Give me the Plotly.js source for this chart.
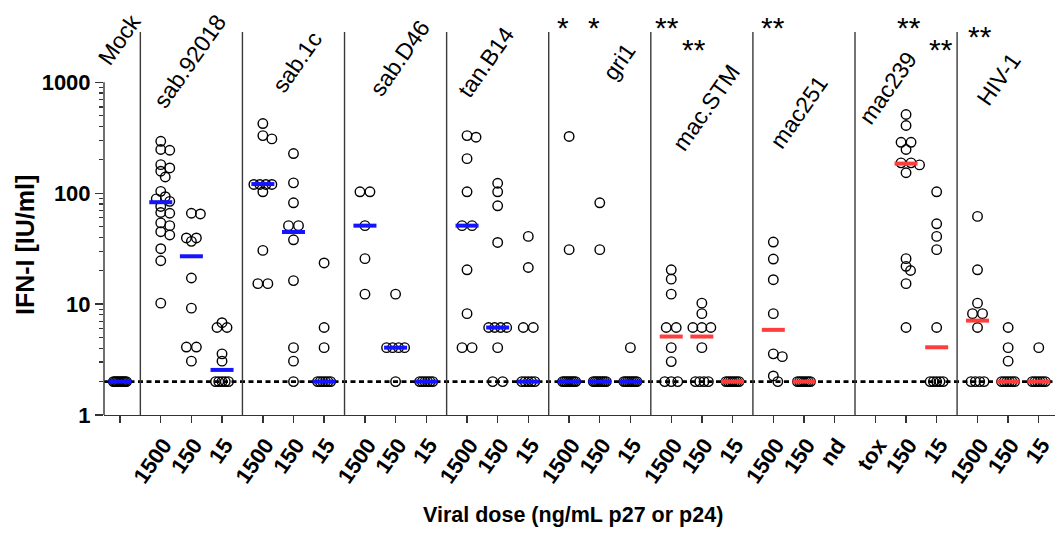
<!DOCTYPE html>
<html>
<head>
<meta charset="utf-8">
<script src="https://cdn.plot.ly/plotly-3.0.1.min.js"></script>
<style>html,body{margin:0;padding:0;background:#fff;}#chart{width:1055px;height:538px;}</style>
</head>
<body>
<div id="chart"></div>
<script>
// ---------------- DATA ----------------
const groups = ['Mock','sab.92018','sab.1c','sab.D46','tan.B14','gri1','mac.STM','mac251','mac239','HIV-1'];
const doseLabels = [
  [''],
  ['1500','150','15'], ['1500','150','15'], ['1500','150','15'], ['1500','150','15'],
  ['1500','150','15'], ['1500','150','15'], ['1500','150','nd'], ['tox','150','15'],
  ['1500','150','15']
];
const floorValue = 2;   // detection limit (dotted line)

const mockVals = [[2,2,2,2,2,2,2,2,2,2]];
const sab92018Vals = [
  [294,248,244,181,169,158,140,104,93,89,84.5,76,67,66,54,51,45,42,31.6,24.6,10.2],
  [66,65,39.5,39.5,36.8,17.2,9.2,4.1,4.1,3.06],
  [6.8,6.15,6.15,3.56,3.06,2,2,2,2,2]
];
const sab1cVals = [
  [425,331,309,120,120,120,120,103,30.5,15.3,15.3],
  [228,124,82,51,51,38,16.3,4.05,3.06,2],
  [23.5,6.15,4.05,2,2,2,2,2,2]
];
const sabD46Vals = [
  [103,103,51,25.7,12.3],
  [12.3,4.05,4.05,4.05,4.05,2],
  [2,2,2,2,2,2]
];
const tanB14Vals = [
  [331,320,205,103,51,51,20.4,8.2,4.05,4.05],
  [123,103,77,36,6.15,6.15,6.15,6.15,4.05,2,2],
  [40.8,21.4,6.15,6.15,2,2,2,2,2]
];
const gri1Vals = [
  [325,31,2,2,2,2,2,2,2,2],
  [82,31,2,2,2,2,2,2,2,2],
  [4.05,2,2,2,2,2,2,2,2]
];
const macSTMVals = [
  [20.4,16.8,12.3,6.15,6.15,4.05,3.03,2,2,2],
  [10.2,8.2,6.15,6.15,6.15,4.05,2,2,2,2],
  [2,2,2,2,2,2,2]
];
const mac251Vals = [
  [36.3,25.5,16.6,8.2,3.56,3.36,2.25,2],
  [2,2,2,2,2,2,2],
  []
];
const mac239Vals = [
  [],
  [513,408,288,288,248,188,188,180,153,25.7,21.9,20.1,15.3,6.15],
  [103,53,40.8,31,6.15,2,2,2,2,2]
];
const hiv1Vals = [
  [61.8,20.4,10.2,8.2,8.2,6.15,2,2,2,2],
  [6.15,4.05,3.06,2,2,2,2,2,2],
  [4.05,2,2,2,2,2,2]
];
const allVals = [mockVals,sab92018Vals,sab1cVals,sabD46Vals,tanB14Vals,gri1Vals,macSTMVals,mac251Vals,mac239Vals,hiv1Vals];

// median bars as drawn
const medians = [
  [2],
  [83,27,2.55], [121,44.7,2], [51,4.05,2], [51,6.15,2], [2,2,2],
  [5.1,5.1,2], [5.86,2,null], [null,185,4.08], [7.1,2,2]
];
// significance marks: [group, dose column, text, row]
const sigMarks = [
  [5,0,'*',0],[5,1,'*',0],[6,0,'**',0],[6,1,'**',1],[7,0,'**',0],[8,1,'**',0],[8,2,'**',1],[9,0,'**',2]
];
const yTickVals = [1,10,100,1000];

// ---------------- LAYOUT HELPERS ----------------
const FONT = 'Liberation Sans, Arial, Helvetica, sans-serif';
const xRange = [-0.52, 30.53];
const yRange = [0, 3.454];
const plotW = 951, plotH = 383;
const PXU = plotW/(xRange[1]-xRange[0]);
const PXDEC = plotH/(yRange[1]-yRange[0]);
const blue = '#1414ff', red = '#ff3d3d';

function colPos(g, j){ return g===0 ? 0 : 4/3 + (g-1)*10/3 + j; }

// simple deterministic scatter spreading (pixel space)
function swarm(vals){
  const d = 10;
  const out = new Array(vals.length).fill(0);
  const placed = [];
  const idx = vals.map((v,i)=>i).sort((a,b)=>vals[b]-vals[a]);
  let i = 0;
  while(i < idx.length){
    let j = i;
    while(j < idx.length && vals[idx[j]] === vals[idx[i]]) j++;
    const c = j - i, v = vals[idx[i]], y = Math.log10(v)*PXDEC;
    let xs;
    if (v === floorValue && c > 2){
      const sp = 13/(c-1);
      xs = []; for(let k=0;k<c;k++) xs.push((k-(c-1)/2)*sp);
    } else {
      const sp = c > 1 ? Math.min(d, 18/(c-1)) : 0;
      const cands = [0]; for(let s=1;s<14;s++){ cands.push(s*4.5, -s*4.5); }
      for(const s of cands){
        const tx = []; for(let k=0;k<c;k++) tx.push(s+(k-(c-1)/2)*sp);
        const ok = tx.every(x => placed.every(p => (p.x-x)**2+(p.y-y)**2 >= (0.6*d)**2));
        if(ok){ xs = tx; break; }
      }
      if(!xs){ xs = []; for(let k=0;k<c;k++) xs.push((k-(c-1)/2)*sp); }
    }
    for(let k=0;k<c;k++){ out[idx[i+k]] = xs[k]; placed.push({x:xs[k], y:y}); }
    i = j;
  }
  return out;
}

// ---------------- TRACES ----------------
const px = [], py = [];
const tickVals = [], tickText = [];
const blueX = [], blueY = [], redX = [], redY = [];
allVals.forEach((grp, g) => {
  grp.forEach((vals, j) => {
    const c = colPos(g, j);
    tickVals.push(c);
    tickText.push(doseLabels[g][j] ? '<b>'+doseLabels[g][j]+'</b>' : '');
    const offs = swarm(vals);
    vals.forEach((v,k) => { px.push(c + offs[k]/PXU); py.push(v); });
    const m = medians[g][j];
    if (m !== null && m !== undefined){
      const hw = 11.5/PXU;
      if (g <= 5){ blueX.push(c-hw, c+hw, null); blueY.push(m, m, null); }
      else { redX.push(c-hw, c+hw, null); redY.push(m, m, null); }
    }
  });
});

const traces = [
  {type:'scatter', mode:'markers', x:px, y:py, hoverinfo:'y',
   marker:{symbol:'circle-open', size:9.5, color:'#000', line:{width:1.4, color:'#000'}}},
  {type:'scatter', mode:'lines', x:blueX, y:blueY, line:{color:blue, width:4}, hoverinfo:'skip'},
  {type:'scatter', mode:'lines', x:redX, y:redY, line:{color:red, width:4}, hoverinfo:'skip'}
];

// ---------------- SHAPES & ANNOTATIONS ----------------
const shapes = [];
for (let g = 1; g < groups.length; g++){
  const prevLast = colPos(g-1, allVals[g-1].length-1);
  const xs = (prevLast + colPos(g,0))/2;
  shapes.push({type:'line', xref:'x', yref:'paper', x0:xs, x1:xs, y0:0, y1:1, line:{color:'#3a3a3a', width:1.4}});
}
const floorPaper = (Math.log10(floorValue)-yRange[0])/(yRange[1]-yRange[0]);
shapes.push({type:'line', xref:'paper', yref:'paper', x0:0, x1:1, y0:floorPaper, y1:floorPaper, layer:'below',
  line:{color:'#000', width:2.6, dash:'5px,3.5px'}});
const topPaper = (Math.log10(yTickVals[yTickVals.length-1])-yRange[0])/(yRange[1]-yRange[0]);
shapes.push({type:'line', xref:'paper', yref:'paper', x0:0, x1:0, y0:0, y1:topPaper, line:{color:'#333', width:1.4}});

const labelPos = [ [-0.03,0.979],[2.285,0.924],[5.78,0.922],[9.14,0.932],[11.95,0.922],[16.29,0.922],[19.13,0.802],[22.17,0.791],[25.07,0.854],[28.70,0.877] ];
const annotations = groups.map((name, g) => ({
  text:name, xref:'x', yref:'paper', x:labelPos[g][0], y:labelPos[g][1], xanchor:'center', yanchor:'middle',
  textangle:-55, showarrow:false, font:{family:FONT, size:23, color:'#000'}
}));
const sigRowPx = [25, 46, 33.5];
const sigShift = {'5,0':-6,'5,1':-6,'6,0':-4,'6,1':-8,'7,0':0,'8,1':3,'8,2':4,'9,0':2};
sigMarks.forEach(([g,j,t,row]) => {
  const yp = (plotH - (sigRowPx[row] - 32) - 3) / plotH;
  annotations.push({text:t, xref:'x', yref:'paper', x:colPos(g,j), y:yp, xanchor:'center', yanchor:'middle',
    xshift: sigShift[g+','+j] || 0, showarrow:false, font:{family:FONT, size:30, color:'#000'}});
});
annotations.push({text:'<b>IFN-I [IU/ml]</b>', xref:'paper', yref:'paper', x:(25-104)/plotW, y:(415-245)/plotH,
  xanchor:'center', yanchor:'middle', textangle:-90, showarrow:false, font:{family:FONT, size:25, color:'#000'}});
annotations.push({text:'<b>Viral dose (ng/mL p27 or p24)</b>', xref:'paper', yref:'paper', x:(573-104)/plotW, y:(415-515)/plotH,
  xanchor:'center', yanchor:'middle', showarrow:false, font:{family:FONT, size:21.5, color:'#000'}});

const minorVals = [];
for (let e = 0; e < 3; e++) for (let k = 2; k <= 9; k++) minorVals.push(k*Math.pow(10,e));

const layout = {
  width:1055, height:538,
  margin:{l:104, r:0, t:32, b:123, pad:0},
  paper_bgcolor:'#fff', plot_bgcolor:'#fff',
  showlegend:false,
  font:{family:FONT, color:'#000'},
  xaxis:{range:xRange, tickmode:'array', tickvals:tickVals, ticktext:tickText, tickangle:-55,
    ticks:'outside', ticklen:7, tickwidth:1.4, tickcolor:'#333', ticklabelshift:3,
    showline:true, linecolor:'#333', linewidth:1.4, showgrid:false, zeroline:false,
    tickfont:{family:FONT, size:22, color:'#000'}},
  yaxis:{type:'log', range:yRange, tickmode:'array', tickvals:yTickVals,
    ticktext:yTickVals.map(v=>'<b>'+v+'</b>'),
    ticks:'outside', ticklen:8, tickwidth:1.4, tickcolor:'#333',
    minor:{tickmode:'array', tickvals:minorVals, ticks:'outside', ticklen:4, tickwidth:1.2, tickcolor:'#333', showgrid:false},
    showline:false, showgrid:false, zeroline:false,
    tickfont:{family:FONT, size:22, color:'#000'}},
  shapes:shapes,
  annotations:annotations
};

Plotly.newPlot('chart', traces, layout, {displayModeBar:false, staticPlot:true});
</script>
</body>
</html>
